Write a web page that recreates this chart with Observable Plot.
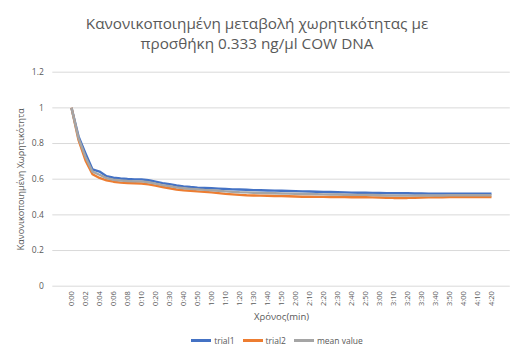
<!DOCTYPE html>
<html>
<head>
<meta charset="utf-8">
<script src="https://cdn.jsdelivr.net/npm/d3@7"></script>
<script src="https://cdn.jsdelivr.net/npm/@observablehq/plot@0.6"></script>
<style>
  body { margin: 0; background: #fff; font-family: "Open Sans", "Noto Sans", sans-serif; color: #595959; }
  #wrap { width: 514px; height: 351px; overflow: hidden; }
  #title { height: 62px; box-sizing: border-box; padding-top: 13px; text-align: center; font-size: 15.3px; line-height: 20px; color: #595959; }
  #title div { height: 20px; white-space: nowrap; }
  #legend { height: 21px; box-sizing: border-box; display: flex; justify-content: center; align-items: center; gap: 8px; font-size: 8.5px; color: #595959; padding-left: 40px; }
  #legend span.sw { display: inline-block; width: 20px; height: 2.5px; margin-right: 3px; vertical-align: middle; }
  #legend .item { display: flex; align-items: center; }
</style>
</head>
<body>
<div id="wrap">
  <div id="title"><div>Κανονικοποιημένη μεταβολή χωρητικότητας με</div><div>προσθήκη 0.333 ng/μl COW DNA</div></div>
  <div id="chart"></div>
  <div id="legend"></div>
</div>
<script>
// Sampling times (min:sec) of the measurement
const times = [
  "0:00","0:01","0:02","0:03","0:04","0:05","0:06","0:07","0:08","0:09","0:10",
  "0:15","0:20","0:25","0:30","0:35","0:40","0:45","0:50","0:55","1:00",
  "1:05","1:10","1:15","1:20","1:25","1:30","1:35","1:40","1:45","1:50",
  "1:55","2:00","2:05","2:10","2:15","2:20","2:25","2:30","2:35","2:40",
  "2:45","2:50","2:55","3:00","3:05","3:10","3:15","3:20","3:25","3:30",
  "3:35","3:40","3:45","3:50","3:55","4:00","4:05","4:10","4:15","4:20"
];

// Normalised capacitance, trial 1
const trial1 = [
  1.000,0.840,0.745,0.655,0.643,0.617,0.608,0.604,0.601,0.599,0.599,
  0.594,0.586,0.578,0.572,0.565,0.560,0.556,0.553,0.551,0.549,
  0.547,0.545,0.543,0.542,0.541,0.539,0.538,0.537,0.536,0.535,
  0.534,0.533,0.532,0.531,0.530,0.529,0.528,0.527,0.526,0.525,
  0.524,0.524,0.523,0.523,0.522,0.522,0.521,0.521,0.520,0.520,
  0.519,0.519,0.519,0.519,0.519,0.519,0.519,0.519,0.519,0.519
];

// Normalised capacitance, trial 2
const trial2 = [
  1.000,0.820,0.705,0.628,0.607,0.594,0.586,0.581,0.578,0.577,0.576,
  0.571,0.564,0.556,0.549,0.542,0.538,0.535,0.532,0.529,0.526,
  0.522,0.518,0.515,0.512,0.510,0.509,0.508,0.507,0.506,0.505,
  0.504,0.503,0.502,0.502,0.501,0.501,0.500,0.500,0.500,0.499,
  0.499,0.499,0.498,0.497,0.496,0.495,0.495,0.495,0.496,0.497,
  0.498,0.499,0.499,0.500,0.500,0.500,0.500,0.500,0.500,0.500
];

// Mean of the two trials
const meanValue = [
  1.000,0.830,0.725,0.642,0.625,0.606,0.597,0.593,0.590,0.588,0.588,
  0.583,0.575,0.567,0.561,0.554,0.549,0.546,0.543,0.540,0.538,
  0.535,0.532,0.529,0.527,0.526,0.524,0.523,0.522,0.521,0.520,
  0.519,0.518,0.517,0.517,0.516,0.515,0.514,0.514,0.513,0.512,
  0.512,0.512,0.511,0.510,0.509,0.509,0.508,0.508,0.508,0.509,
  0.509,0.509,0.509,0.510,0.510,0.510,0.510,0.510,0.510,0.510
];

const seriesNames = ["trial1", "trial2", "mean value"];
const seriesColors = ["#4472C4", "#ED7D31", "#A5A5A5"];
const yTicks = [0, 0.2, 0.4, 0.6, 0.8, 1, 1.2];
// every other sampling time is labelled on the axis
const xTickLabels = times.filter((t, i) => i % 2 === 0);

const seriesValues = [trial1, trial2, meanValue];
const rows = seriesNames.flatMap((name, s) =>
  times.map((t, i) => ({series: name, time: t, value: seriesValues[s][i]}))
);

const textColor = "#595959";
const gridColor = "#D9D9D9";

const chart = Plot.plot({
  width: 514,
  height: 268,
  marginTop: 9.7,
  marginBottom: 44.3,
  marginLeft: 52.3,
  marginRight: 4.2,
  style: {fontFamily: "'Open Sans', 'Noto Sans', sans-serif", color: textColor, background: "#fff"},
  x: {type: "point", domain: times, padding: 0.5, axis: null},
  y: {domain: [0, 1.2], axis: null},
  color: {domain: seriesNames, range: seriesColors},
  marks: [
    Plot.gridY(yTicks, {stroke: gridColor, strokeOpacity: 1, strokeWidth: 1}),
    Plot.axisY(yTicks, {
      tickSize: 0, tickPadding: 9, fontSize: 8.5, fill: textColor,
      tickFormat: d => String(d), label: null
    }),
    Plot.axisX(xTickLabels, {
      tickSize: 0, tickPadding: 5, tickRotate: -90, fontSize: 7.5, fill: textColor, label: null
    }),
    Plot.text(["Κανονικοποιημένη Χωρητικότητα"], {
      frameAnchor: "left", textAnchor: "middle", rotate: -90, dx: -32, fontSize: 9, fill: textColor
    }),
    Plot.text(["Χρόνος(min)"], {
      frameAnchor: "bottom", dy: 33.5, fontSize: 9.5, fill: textColor
    }),
    Plot.line(rows, {
      x: "time", y: "value", z: "series", stroke: "series",
      strokeWidth: 2.4, strokeLinejoin: "round", strokeLinecap: "butt"
    })
  ]
});
document.getElementById("chart").appendChild(chart);

// legend below the plot
const legend = document.getElementById("legend");
seriesNames.forEach((name, i) => {
  const item = document.createElement("div");
  item.className = "item";
  const sw = document.createElement("span");
  sw.className = "sw";
  sw.style.background = seriesColors[i];
  item.appendChild(sw);
  item.appendChild(document.createTextNode(name));
  legend.appendChild(item);
});
</script>
</body>
</html>
